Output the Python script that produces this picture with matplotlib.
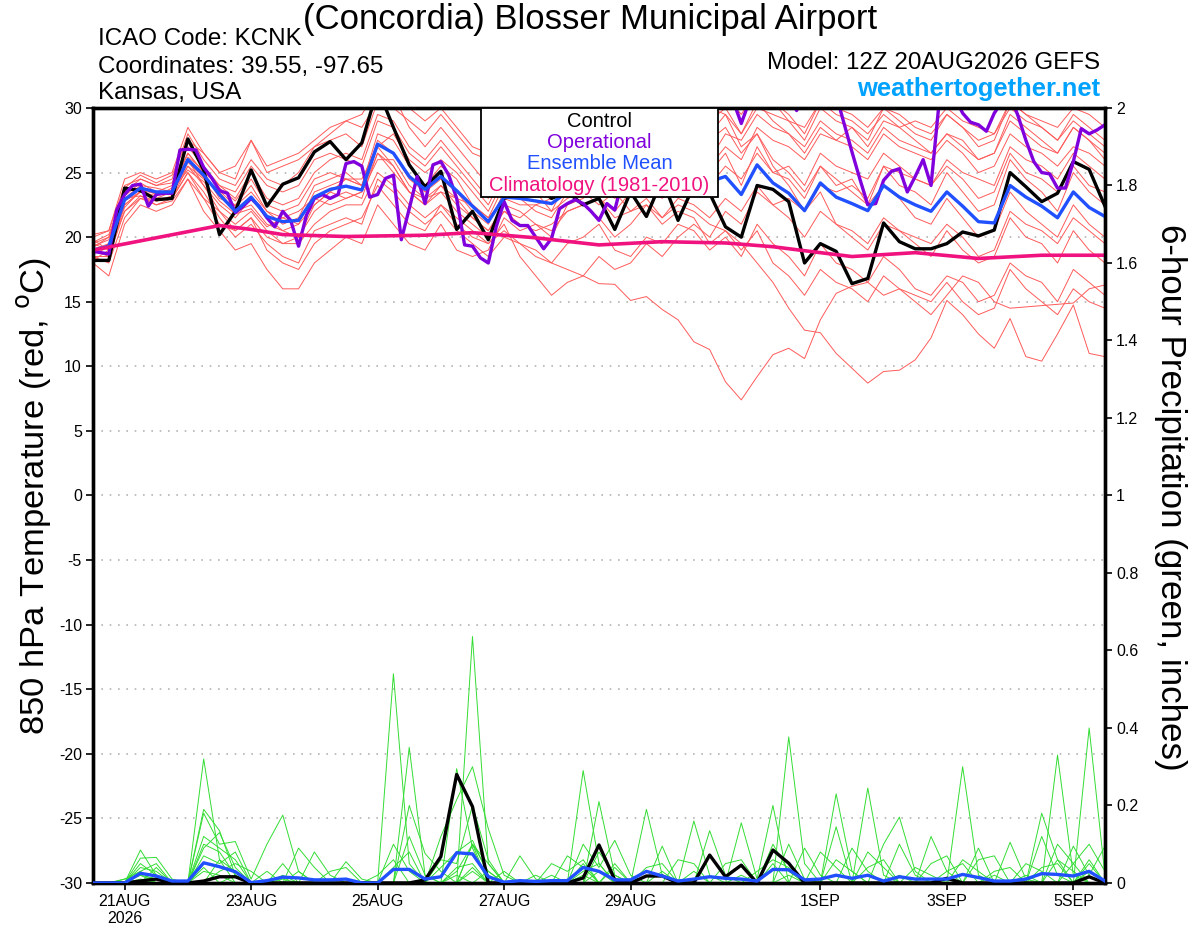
import numpy as np
import matplotlib
matplotlib.use("Agg")
import matplotlib.pyplot as plt
from matplotlib.patches import Rectangle

plt.rcParams['font.family'] = ['Liberation Sans', 'DejaVu Sans']
plt.rcParams['axes.unicode_minus'] = False

# forecast hours from 12Z 20AUG2026
hours = list(range(0, 385, 6))
op_hours = list(range(0, 385, 3))

# 850 hPa temperature (C)
control_t = [18.2, 18.2, 23.8, 23.6, 22.9, 23.0, 27.6, 25.2, 20.2, 22.0,
             25.2, 22.4, 24.1, 24.6, 26.6, 27.4, 26.0, 27.3, 31.5, 28.5,
             25.6, 23.9, 25.1, 20.6, 22.0, 19.8, 23.0, 23.5, 24.0, 23.0,
             23.5, 22.5, 23.0, 20.6, 23.5, 21.6, 24.5, 21.3, 24.0, 23.4,
             20.8, 20.0, 24.0, 23.7, 22.75, 18.0, 19.5, 18.9, 16.4, 16.8,
             21.1, 19.65, 19.1, 19.1, 19.5, 20.4, 20.1, 20.55, 25.0, 23.9,
             22.75, 23.4, 25.85, 25.25, 22.4]

mean_t = [19.0, 19.3, 22.9, 23.8, 23.5, 23.5, 26.0, 24.8, 23.3, 22.0,
          23.1, 21.6, 21.2, 21.3, 23.1, 23.7, 23.95, 23.65, 27.2, 26.5,
          24.7, 23.7, 24.7, 23.6, 22.4, 21.2, 23.1, 23.0, 22.8, 22.6,
          23.5, 24.0, 24.5, 24.0, 23.8, 24.5, 24.0, 24.5, 24.8, 24.3,
          24.7, 23.3, 25.6, 24.2, 23.4, 22.05, 24.2, 23.1, 22.6, 22.05,
          24.0, 23.1, 22.5, 22.0, 23.5, 22.4, 21.2, 21.1, 24.0, 23.1,
          22.4, 21.5, 23.5, 22.3, 21.6]

oper_t = [18.9, 18.8, 18.7, 22.1, 23.3, 24.0, 24.1, 22.4, 23.3, 23.4,
          23.4, 26.75, 26.8, 26.75, 25.4, 24.6, 23.6, 23.4, 21.9, 22.4,
          23.0, 22.4, 21.5, 20.8, 22.0, 21.3, 19.3, 21.7, 23.0, 23.3,
          23.0, 23.3, 25.7, 25.85, 25.5, 23.1, 23.3, 24.55, 24.8, 19.8,
          22.2, 24.7, 22.6, 25.6, 25.85, 24.8, 23.0, 19.4, 19.3, 18.4,
          18.0, 20.8, 22.75, 21.3, 20.9, 20.9, 20.0, 19.1, 19.9, 22.2,
          22.6, 22.9, 22.6, 22.0, 21.3, 22.6, 22.1, 24.5, 26.0, 25.0,
          26.5, 27.0, 25.5, 27.5, 28.0, 27.0, 28.5, 29.5, 31.0, 31.5,
          32.0, 30.5, 28.8, 30.5, 31.5, 32.0, 32.5, 32.0, 31.0, 29.8,
          31.0, 32.0, 32.5, 32.0, 31.0, 28.8, 26.6, 24.5, 22.5, 22.6,
          24.4, 25.1, 25.3, 23.5, 24.7, 26.0, 24.0, 30.3, 31.5, 30.8,
          29.6, 28.9, 28.7, 28.2, 29.6, 30.5, 31.0, 29.4, 27.5, 25.85,
          25.0, 24.9, 23.8, 23.8, 25.85, 28.4, 28.0, 28.3, 28.7]

clim_hours = [0, 48, 60, 72, 96, 126, 144, 168, 192, 216, 240, 258, 270,
              288, 312, 336, 360, 384]
clim_t = [19.0, 20.9, 20.6, 20.2, 20.05, 20.15, 20.35, 19.95, 19.4, 19.65,
          19.55, 19.26, 18.95, 18.5, 18.8, 18.35, 18.6, 18.6]

# ensemble members (temperature)
mem01 = [19.5, 20.0, 23.5, 24.5, 24.0, 24.2, 27.0, 25.5, 24.0, 23.0,
         25.0, 23.0, 22.5, 23.0, 25.0, 26.0, 26.5, 26.0, 29.5, 29.0,
         27.0, 26.0, 27.5, 26.0, 24.5, 23.0, 25.5, 26.0, 25.0, 24.5,
         26.0, 27.0, 28.0, 27.5, 28.0, 29.0, 28.0, 29.5, 30.5, 29.0,
         30.0, 28.0, 30.5, 29.0, 28.0, 26.5, 28.5, 27.5, 27.0, 26.0,
         28.0, 27.0, 26.5, 26.0, 27.5, 26.5, 25.0, 25.5, 28.0, 27.0,
         26.5, 25.5, 27.0, 26.5, 25.5]
mem02 = [18.5, 18.0, 21.5, 23.0, 22.5, 23.0, 25.0, 23.5, 21.5, 20.0,
         21.0, 19.5, 18.5, 18.0, 20.5, 21.0, 21.5, 21.0, 24.5, 23.5,
         22.0, 21.0, 22.0, 20.5, 19.5, 18.5, 20.0, 19.5, 19.0, 18.0,
         19.5, 20.0, 21.0, 19.0, 18.5, 20.0, 19.5, 21.0, 20.5, 19.0,
         20.0, 18.5, 21.0, 19.5, 18.5, 17.0, 19.5, 18.0, 17.5, 16.5,
         18.5, 17.5, 16.0, 15.5, 17.0, 16.5, 15.0, 15.5, 18.0, 17.0,
         16.5, 15.0, 17.5, 16.5, 15.5]
mem03 = [19.0, 19.5, 23.0, 24.0, 23.8, 23.5, 26.5, 25.0, 23.0, 22.5,
         24.0, 22.0, 21.0, 21.5, 24.0, 24.5, 25.0, 24.0, 28.0, 27.5,
         25.5, 24.0, 25.5, 24.5, 22.5, 21.5, 24.0, 23.0, 23.5, 22.0,
         24.5, 25.0, 26.0, 24.0, 25.5, 26.0, 24.5, 26.5, 27.0, 25.0,
         26.5, 24.0, 27.0, 25.0, 24.5, 23.0, 25.5, 24.0, 24.5, 22.5,
         25.5, 24.0, 23.5, 22.5, 25.0, 23.5, 22.0, 22.5, 26.0, 24.5,
         23.5, 22.0, 25.0, 23.5, 22.5]
mem04 = [20.0, 20.5, 24.0, 24.5, 24.0, 24.5, 28.0, 26.0, 24.5, 24.0,
         26.0, 24.5, 24.0, 25.0, 27.0, 27.5, 28.0, 27.0, 30.5, 31.0,
         28.5, 27.0, 28.5, 27.0, 25.5, 24.0, 27.0, 27.5, 26.5, 25.0,
         27.0, 28.5, 29.5, 28.0, 29.0, 30.5, 29.5, 31.0, 32.0, 30.0,
         29.5, 27.0, 28.0, 25.5, 24.0, 22.0, 23.5, 21.0, 20.0, 19.0,
         21.0, 20.5, 19.5, 18.5, 20.5, 19.0, 18.0, 18.5, 21.5, 20.0,
         19.5, 18.0, 20.5, 19.0, 18.0]
mem05 = [18.0, 17.0, 21.0, 22.5, 22.0, 22.5, 24.5, 22.0, 20.5, 19.0,
         19.5, 17.5, 16.0, 16.0, 18.0, 19.0, 20.0, 19.5, 22.5, 21.0,
         19.5, 19.0, 21.0, 19.0, 18.5, 19.0, 21.5, 20.5, 21.0, 20.0,
         22.5, 23.0, 24.0, 23.0, 24.0, 25.0, 23.5, 25.0, 26.0, 25.5,
         27.0, 26.0, 28.5, 27.5, 27.0, 26.0, 28.0, 27.5, 28.5, 27.0,
         29.0, 28.5, 27.5, 26.5, 28.0, 27.5, 26.0, 26.5, 29.5, 28.5,
         27.5, 26.5, 28.5, 27.5, 26.0]
mem06 = [19.5, 19.0, 22.5, 23.5, 23.0, 23.0, 25.5, 24.5, 23.5, 22.0,
         22.5, 21.0, 20.5, 20.0, 22.0, 23.0, 23.5, 23.0, 26.5, 25.0,
         23.5, 22.5, 23.5, 22.0, 21.0, 20.0, 22.0, 21.0, 20.5, 21.0,
         22.0, 22.5, 21.5, 20.0, 21.0, 22.5, 21.0, 22.0, 21.5, 19.5,
         20.5, 19.0, 20.5, 18.0, 17.0, 15.5, 17.5, 16.5, 16.0, 15.0,
         17.0, 16.0, 15.5, 15.0, 16.5, 15.0, 14.0, 14.5, 17.5, 16.0,
         15.0, 14.0, 16.0, 15.0, 14.5]
mem07 = [18.8, 19.5, 23.2, 24.2, 23.5, 24.0, 26.5, 25.0, 24.0, 23.5,
         25.5, 24.0, 23.5, 24.0, 26.0, 26.5, 26.0, 25.5, 29.0, 28.5,
         26.5, 25.5, 27.0, 25.5, 24.0, 22.5, 25.0, 25.5, 26.5, 25.5,
         27.5, 28.0, 29.5, 29.0, 30.0, 31.0, 30.0, 30.5, 31.5, 30.5,
         31.0, 29.5, 31.5, 30.5, 29.0, 27.5, 30.0, 29.0, 28.5, 27.5,
         30.0, 29.0, 28.0, 27.5, 29.5, 28.5, 27.0, 27.5, 30.5, 29.5,
         28.5, 27.5, 29.5, 28.5, 27.5]
mem08 = [19.2, 20.0, 22.8, 23.5, 23.2, 23.8, 26.0, 24.0, 22.5, 21.5,
         23.0, 21.5, 20.5, 21.0, 23.5, 24.0, 24.5, 24.0, 27.5, 26.5,
         24.5, 23.5, 24.5, 23.5, 22.0, 21.0, 23.5, 23.0, 22.0, 21.5,
         23.5, 24.0, 23.0, 22.0, 23.5, 24.0, 23.0, 24.5, 25.0, 24.0,
         25.5, 24.5, 26.5, 25.0, 25.5, 24.0, 26.5, 25.5, 25.0, 24.5,
         26.5, 25.5, 24.5, 24.0, 25.5, 24.5, 23.0, 23.5, 26.5, 25.0,
         24.5, 23.5, 25.5, 24.0, 23.5]
mem09 = [19.8, 19.0, 23.8, 24.8, 24.2, 24.8, 27.5, 26.5, 25.0, 24.5,
         27.5, 25.0, 25.5, 26.0, 27.0, 28.0, 29.0, 29.5, 31.5, 30.0,
         29.0, 28.0, 29.5, 28.0, 26.5, 26.0, 28.5, 28.0, 27.0, 26.0,
         28.0, 27.5, 26.5, 25.0, 26.0, 27.0, 25.5, 26.5, 27.0, 26.0,
         28.0, 27.5, 29.5, 28.5, 28.0, 27.0, 29.0, 28.0, 27.5, 26.5,
         28.5, 27.5, 27.0, 26.5, 28.0, 27.0, 26.0, 26.5, 29.0, 28.0,
         27.0, 26.5, 28.5, 27.5, 26.5]
mem10 = [18.5, 18.5, 22.0, 23.0, 22.8, 23.0, 25.0, 23.0, 21.0, 20.5,
         21.5, 20.0, 19.5, 19.5, 21.0, 22.0, 22.5, 22.5, 25.0, 24.0,
         22.5, 21.5, 22.5, 21.0, 20.0, 19.5, 20.5, 19.5, 18.5, 18.0,
         17.5, 17.0, 16.4, 16.35, 15.1, 15.4, 14.4, 13.6, 11.9, 11.3,
         8.8, 7.4, 9.2, 10.9, 11.4, 10.6, 13.6, 15.65, 16.2, 16.5,
         15.5, 16.0, 15.0, 14.0, 15.5, 17.0, 16.5, 15.0, 14.5, 14.6,
         14.7, 14.8, 14.9, 16.0, 16.3]
mem11 = [19.0, 18.5, 22.5, 23.5, 23.0, 23.5, 25.5, 24.0, 22.0, 21.0,
         22.0, 20.5, 19.5, 20.0, 22.5, 23.5, 24.5, 24.0, 27.0, 25.5,
         23.5, 22.5, 24.0, 22.5, 21.5, 20.5, 22.5, 22.0, 21.0, 20.5,
         22.0, 22.5, 23.0, 21.5, 22.0, 23.0, 21.5, 22.5, 22.0, 21.0,
         20.5, 19.5, 18.0, 16.5, 14.5, 12.8, 12.6, 11.0, 9.85, 8.7,
         9.6, 9.7, 10.5, 12.2, 15.1, 14.0, 12.5, 11.4, 13.7, 10.75,
         10.4, 12.5, 14.75, 11.0, 10.75]
mem12 = [20.2, 20.5, 24.5, 25.0, 24.5, 25.0, 28.5, 26.5, 25.0, 25.5,
         27.5, 25.5, 26.0, 26.5, 27.5, 28.5, 29.0, 28.5, 30.5, 31.5,
         30.0, 29.0, 30.0, 28.5, 27.0, 26.5, 29.5, 30.5, 29.0, 28.0,
         30.5, 31.0, 30.5, 29.5, 30.5, 31.5, 30.5, 32.0, 31.5, 30.0,
         31.0, 30.0, 32.0, 30.5, 29.5, 28.0, 30.5, 29.5, 29.0, 28.0,
         29.5, 28.5, 29.0, 28.5, 30.0, 29.0, 28.5, 28.0, 30.5, 29.5,
         29.0, 28.5, 30.0, 29.5, 28.5]
mem13 = [18.2, 19.0, 22.0, 23.2, 22.5, 22.8, 24.5, 23.0, 22.0, 20.5,
         21.5, 19.0, 18.0, 17.5, 19.5, 20.5, 21.0, 21.5, 24.0, 22.5,
         21.0, 20.5, 22.5, 21.5, 20.5, 19.5, 21.0, 18.5, 17.0, 15.5,
         16.5, 17.0, 18.5, 17.5, 18.0, 19.5, 18.5, 20.0, 21.0, 20.0,
         22.0, 21.0, 23.5, 22.5, 23.0, 22.0, 24.0, 23.5, 24.0, 23.0,
         25.5, 25.0, 24.5, 24.0, 26.0, 25.0, 24.5, 24.0, 27.0, 26.0,
         25.5, 24.5, 26.5, 25.5, 24.5]
mem14 = [19.6, 20.2, 23.6, 23.8, 23.3, 23.3, 26.2, 25.2, 23.8, 22.8,
         24.5, 22.5, 22.0, 22.5, 24.5, 25.0, 24.5, 24.5, 27.0, 28.0,
         26.0, 25.0, 26.0, 25.0, 23.5, 22.0, 24.5, 24.5, 24.0, 23.5,
         25.0, 25.5, 25.0, 26.5, 27.0, 28.0, 26.5, 28.0, 29.0, 27.5,
         28.5, 26.5, 28.0, 26.0, 25.0, 23.5, 25.5, 24.5, 23.5, 22.5,
         24.0, 23.0, 21.5, 21.0, 23.0, 21.5, 20.0, 20.5, 23.5, 22.0,
         21.0, 20.0, 22.5, 21.0, 20.0]
mem15 = [18.7, 19.2, 22.3, 23.6, 23.4, 23.6, 25.2, 24.3, 22.8, 21.8,
         22.2, 20.8, 21.5, 21.0, 22.5, 23.5, 23.0, 23.5, 26.0, 26.0,
         24.0, 23.0, 23.5, 23.0, 22.5, 21.5, 23.0, 22.5, 22.5, 23.0,
         24.0, 24.5, 25.5, 25.0, 26.0, 27.0, 26.0, 27.0, 28.5, 28.0,
         29.5, 28.0, 30.0, 29.5, 29.0, 28.5, 30.5, 30.0, 29.5, 28.5,
         30.0, 29.5, 28.5, 28.0, 29.5, 28.5, 27.5, 28.0, 30.0, 29.0,
         28.5, 27.5, 29.0, 28.0, 27.0]
mem16 = [19.3, 19.8, 23.0, 23.2, 22.8, 23.2, 25.8, 24.6, 23.6, 22.4,
         23.5, 22.0, 21.5, 22.0, 23.0, 22.5, 23.0, 23.5, 26.5, 25.5,
         23.5, 23.0, 24.0, 23.0, 21.5, 20.5, 22.0, 21.5, 22.5, 22.0,
         23.0, 23.5, 22.5, 23.5, 22.0, 22.5, 21.5, 23.0, 22.5, 21.5,
         23.0, 22.0, 24.0, 22.5, 21.5, 20.0, 22.0, 21.0, 20.5, 19.5,
         21.5, 20.5, 20.0, 19.5, 21.0, 20.0, 18.5, 19.0, 22.0, 21.0,
         20.5, 19.5, 21.5, 20.5, 19.5]
members_t = [mem01, mem02, mem03, mem04, mem05, mem06, mem07, mem08,
             mem09, mem10, mem11, mem12, mem13, mem14, mem15, mem16]

# 6-hour precipitation (inches)
control_p = [0, 0, 0, 0.005, 0.01, 0, 0, 0.005, 0.016, 0.016,
             0, 0, 0, 0, 0, 0, 0, 0, 0, 0,
             0, 0.008, 0.068, 0.28, 0.197, 0, 0, 0, 0, 0,
             0, 0.013, 0.098, 0.008, 0, 0.018, 0.018, 0, 0, 0.072,
             0.016, 0.046, 0, 0.085, 0.051, 0, 0, 0, 0, 0,
             0, 0, 0, 0, 0.012, 0, 0, 0, 0, 0,
             0, 0, 0, 0.016, 0]
mean_p = [0, 0, 0, 0.025, 0.018, 0.005, 0.005, 0.052, 0.042, 0.029,
          0.001, 0.006, 0.015, 0.013, 0.008, 0.008, 0.01, 0, 0, 0.035,
          0.035, 0.01, 0.016, 0.078, 0.075, 0.016, 0.002, 0.006, 0.004, 0.006,
          0.006, 0.04, 0.03, 0.008, 0.008, 0.03, 0.018, 0.005, 0.01, 0.016,
          0.012, 0.01, 0.005, 0.035, 0.034, 0.008, 0.01, 0.02, 0.012, 0.02,
          0.005, 0.016, 0.01, 0.01, 0.01, 0.022, 0.014, 0.005, 0.005, 0.01,
          0.024, 0.022, 0.018, 0.03, 0.005]

# precipitation members: {step: amount}, all other steps dry
pmem01 = {3: 0.085, 4: 0.02, 7: 0.32, 8: 0.06, 12: 0.02, 19: 0.54, 20: 0.05,
          24: 0.1, 31: 0.05, 38: 0.16, 39: 0.02, 47: 0.23, 48: 0.03, 55: 0.3,
          56: 0.02, 63: 0.05}
pmem02 = {3: 0.064, 4: 0.066, 5: 0.01, 7: 0.19, 8: 0.135, 9: 0.02, 20: 0.35,
          21: 0.02, 24: 0.636, 25: 0.05, 32: 0.21, 33: 0.02, 44: 0.377,
          45: 0.05, 51: 0.02, 61: 0.33, 62: 0.02}
pmem03 = {2: 0.01, 3: 0.03, 4: 0.05, 7: 0.18, 8: 0.1, 9: 0.107, 10: 0.01,
          11: 0.1, 12: 0.175, 13: 0.03, 22: 0.12, 23: 0.215, 24: 0.3, 25: 0.14,
          26: 0.02, 35: 0.19, 36: 0.02, 49: 0.245, 50: 0.02, 60: 0.18,
          61: 0.06, 63: 0.4, 64: 0.02}
pmem04 = {3: 0.04, 4: 0.03, 7: 0.12, 8: 0.09, 9: 0.06, 13: 0.09, 14: 0.04,
          16: 0.055, 17: 0.01, 23: 0.295, 24: 0.09, 27: 0.07, 28: 0.01,
          31: 0.29, 32: 0.05, 41: 0.155, 42: 0.01, 43: 0.2, 47: 0.145,
          53: 0.12, 54: 0.03, 58: 0.105, 59: 0.01}
pmem05 = {3: 0.05, 4: 0.02, 7: 0.09, 8: 0.13, 9: 0.04, 12: 0.05, 14: 0.08,
          15: 0.02, 20: 0.2, 21: 0.076, 22: 0.03, 24: 0.1, 25: 0.03, 31: 0.1,
          32: 0.04, 33: 0.11, 34: 0.02, 36: 0.095, 43: 0.1, 44: 0.03, 50: 0.1,
          51: 0.17, 52: 0.03, 56: 0.09, 62: 0.095, 63: 0.02, 64: 0.095}
pmem06 = {4: 0.04, 7: 0.07, 8: 0.05, 9: 0.08, 11: 0.03, 13: 0.03, 19: 0.04,
          20: 0.08, 22: 0.06, 23: 0.05, 24: 0.2, 25: 0.06, 29: 0.05, 30: 0.03,
          31: 0.06, 33: 0.04, 39: 0.135, 40: 0.02, 45: 0.09, 46: 0.02,
          48: 0.09, 49: 0.03, 51: 0.1, 52: 0.02, 57: 0.03, 58: 0.04, 61: 0.06,
          62: 0.03}
pmem07 = {3: 0.02, 7: 0.05, 8: 0.04, 9: 0.03, 15: 0.03, 16: 0.04, 23: 0.03,
          24: 0.1, 25: 0.05, 30: 0.07, 31: 0.04, 37: 0.06, 38: 0.05, 46: 0.08,
          47: 0.04, 54: 0.03, 55: 0.05, 59: 0.05, 60: 0.03, 63: 0.06}
pmem08 = {8: 0.03, 9: 0.05, 10: 0.03, 22: 0.04, 23: 0.08, 24: 0.11, 25: 0.02,
          32: 0.03, 35: 0.04, 36: 0.05, 42: 0.03, 43: 0.06, 44: 0.04,
          49: 0.04, 50: 0.06, 56: 0.06, 57: 0.07, 60: 0.04, 61: 0.05}
pmem09 = {2: 0.01, 3: 0.02, 4: 0.01, 7: 0.03, 8: 0.02, 19: 0.1, 20: 0.03,
          23: 0.04, 24: 0.05, 26: 0.03, 31: 0.03, 32: 0.05, 40: 0.05,
          41: 0.06, 43: 0.05, 52: 0.04, 53: 0.02, 60: 0.12, 61: 0.02}
pmem10 = {3: 0.01, 8: 0.06, 9: 0.03, 12: 0.01, 20: 0.12, 21: 0.02, 24: 0.04,
          28: 0.02, 32: 0.08, 33: 0.02, 44: 0.1, 45: 0.01, 55: 0.06, 56: 0.03,
          62: 0.05, 63: 0.1, 64: 0.03}
pmem11 = {4: 0.02, 7: 0.1, 8: 0.08, 9: 0.02, 18: 0.02, 19: 0.06, 24: 0.03,
          31: 0.02, 38: 0.03, 47: 0.06, 48: 0.03, 53: 0.05, 54: 0.07,
          59: 0.02, 61: 0.1, 62: 0.05}
pmem12 = {3: 0.03, 7: 0.04, 9: 0.02, 23: 0.02, 25: 0.03, 29: 0.02, 33: 0.05,
          36: 0.03, 41: 0.02, 44: 0.02, 49: 0.08, 50: 0.04, 57: 0.02, 63: 0.03}
members_p = [pmem01, pmem02, pmem03, pmem04, pmem05, pmem06, pmem07, pmem08,
             pmem09, pmem10, pmem11, pmem12]

tick_hours = [12, 60, 108, 156, 204, 276, 324, 372]
tick_labels = ['21AUG\n2026', '23AUG', '25AUG', '27AUG', '29AUG', '1SEP',
               '3SEP', '5SEP']

RED = '#ff5a5a'
GREEN = '#33dd33'
PURPLE = '#8000dd'
BLUE = '#2050ff'
PINK = '#f0127f'

fig = plt.figure(figsize=(12, 9.27), dpi=100)
ax = fig.add_axes([0.0775, 0.0475, 0.8433, 0.836])
ax2 = ax.twinx()

for m in members_t:
    ax.plot(hours, m, color=RED, lw=0.7, zorder=2)
ax.plot(hours, control_t, color='black', lw=2.4, zorder=4)
ax.plot(op_hours, oper_t, color=PURPLE, lw=2.4, zorder=5)
ax.plot(hours, mean_t, color=BLUE, lw=2.4, zorder=6)
ax.plot(clim_hours, clim_t, color=PINK, lw=2.6, zorder=7)

for yv in range(-25, 30, 5):
    ax.axhline(yv, color='#b4b4b4', lw=1.2, ls=(0, (1, 4)), zorder=1)

for pm in members_p:
    vals = np.zeros(len(hours))
    for k, v in pm.items():
        vals[k] = v
    ax2.plot(hours, vals, color=GREEN, lw=0.7, zorder=2)
ax2.plot(hours, control_p, color='black', lw=2.4, zorder=4)
ax2.plot(hours, mean_p, color=BLUE, lw=2.4, zorder=5)

ax.set_xlim(0, 384)
ax.set_ylim(-30, 30)
ax2.set_ylim(0, 2)
ax.set_yticks(range(-30, 31, 5))
ax.set_xticks(tick_hours)
ax.set_xticklabels(tick_labels)
p_ticks = [0, 0.2, 0.4, 0.6, 0.8, 1, 1.2, 1.4, 1.6, 1.8, 2]
ax2.set_yticks(p_ticks)
ax2.set_yticklabels(['%g' % t for t in p_ticks])

ax.tick_params(axis='both', direction='out', length=5, width=1.2,
               labelsize=11.5, pad=3)
ax2.tick_params(axis='y', direction='out', length=5, width=1.2,
                labelsize=11.5, pad=3)
for a in (ax, ax2):
    for s in a.spines.values():
        s.set_linewidth(2.4)

# legend box
ax2.add_patch(Rectangle((0.383, 0.885), 0.235, 0.115, transform=ax2.transAxes,
                        facecolor='white', edgecolor='black', lw=1.3,
                        zorder=20, clip_on=False))
leg_items = [('Control', 'black'), ('Operational', PURPLE),
             ('Ensemble Mean', BLUE), ('Climatology (1981-2010)', PINK)]
for j, (txt, col) in enumerate(leg_items):
    ax2.text(0.5005, 0.983 - j * 0.0275, txt, color=col, fontsize=14.5,
             ha='center', va='center', transform=ax2.transAxes, zorder=21)

fig.text(0.4917, 0.979, '(Concordia) Blosser Municipal Airport',
         ha='center', va='center', fontsize=25)
fig.text(0.0817, 0.958, 'ICAO Code: KCNK', ha='left', va='center',
         fontsize=17.4)
fig.text(0.0817, 0.928, 'Coordinates: 39.55, -97.65', ha='left',
         va='center', fontsize=17.4)
fig.text(0.0817, 0.8994, 'Kansas, USA', ha='left', va='center',
         fontsize=17.4)
fig.text(0.917, 0.9317, 'Model: 12Z 20AUG2026 GEFS', ha='right',
         va='center', fontsize=17.4)
fig.text(0.917, 0.9037, 'weathertogether.net', ha='right', va='center',
         fontsize=18.4, fontweight='bold', color='#00a2ff')
fig.text(0.029, 0.465, '850 hPa Temperature (red, $^{\\rm o}$C)',
         rotation=90, ha='center', va='center', fontsize=24.8)
fig.text(0.975, 0.464, '6-hour Precipitation (green, inches)',
         rotation=270, ha='center', va='center', fontsize=25.2)

fig.savefig('out.png', dpi=100)
